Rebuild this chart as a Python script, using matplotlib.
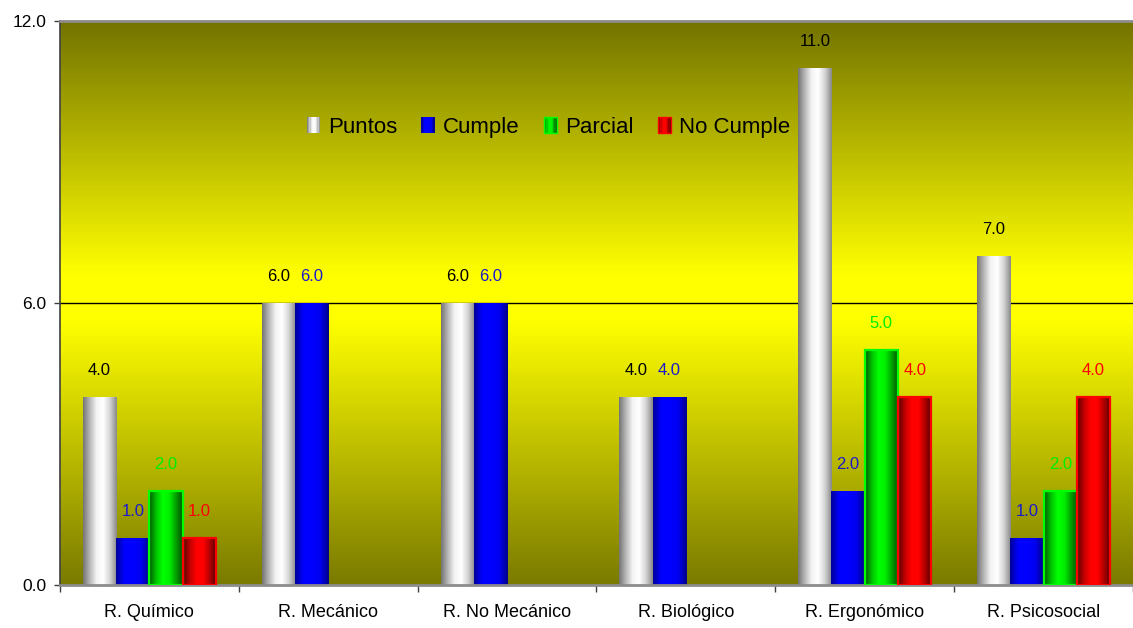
import numpy as np
import matplotlib
matplotlib.use("Agg")
import matplotlib.pyplot as plt
from matplotlib.colors import LinearSegmentedColormap
from matplotlib.legend_handler import HandlerBase
from matplotlib.patches import Rectangle, Patch

plt.rcParams["font.family"] = ["Liberation Sans", "DejaVu Sans"]

categories = ["R. Químico", "R. Mecánico", "R. No Mecánico",
              "R. Biológico", "R. Ergonómico", "R. Psicosocial"]
series_names = ["Puntos", "Cumple", "Parcial", "No Cumple"]
puntos = [4, 6, 6, 4, 11, 7]
cumple = [1, 6, 6, 4, 2, 1]
parcial = [2, 0, 0, 0, 5, 2]
no_cumple = [1, 0, 0, 0, 4, 4]
y_ticks = [0, 6, 12]

series = [puntos, cumple, parcial, no_cumple]

# horizontal shading of each series (left -> right), border colour, label colour
shades = [
    ["#767676", "#b8b8b8", "#f4f4f4", "#ffffff", "#d4d4d4", "#8a8a8a"],
    ["#00009a", "#0000ff", "#0000ff", "#0000f0", "#00008a"],
    ["#005800", "#00c000", "#00ff00", "#00f000", "#00a000", "#005000"],
    ["#5a0000", "#c00000", "#ff0000", "#ff0000", "#b00000", "#500000"],
]
edges = [None, None, "#00ff00", "#ff0000"]
label_colors = ["black", "#1a1acc", "#00ee00", "#ff0000"]
cmaps = [LinearSegmentedColormap.from_list(n, s) for n, s in zip(series_names, shades)]


class GradientHandler(HandlerBase):
    def __init__(self, cmap, edge):
        super().__init__()
        self.cmap = cmap
        self.edge = edge

    def create_artists(self, legend, orig_handle, xdescent, ydescent,
                       width, height, fontsize, trans):
        n = 10
        arts = []
        for i in range(n):
            arts.append(Rectangle((-xdescent + i * width / n, -ydescent),
                                  width / n + 0.3, height,
                                  facecolor=self.cmap((i + 0.5) / n),
                                  edgecolor="none", transform=trans))
        if self.edge:
            arts.append(Rectangle((-xdescent, -ydescent), width, height,
                                  facecolor="none", edgecolor=self.edge,
                                  lw=1, transform=trans))
        return arts


fig = plt.figure(figsize=(11.33, 6.28), dpi=100)
ax = fig.add_axes([60 / 1133, 1 - 585 / 628, 1073 / 1133, 564 / 628])

# background: olive -> yellow (around 6) -> olive
bg = LinearSegmentedColormap.from_list(
    "bg", [(0.0, "#7a7a00"), (0.47, "#ffff00"), (0.55, "#ffff00"), (1.0, "#737300")])
ax.imshow(np.linspace(0, 1, 256)[:, None], cmap=bg, origin="lower",
          extent=[0, 1, 0, 1], transform=ax.transAxes, aspect="auto",
          zorder=0, interpolation="bilinear")

x = np.arange(len(categories))
w = 0.186
grad = np.linspace(0, 1, 64)[None, :]
for k, vals in enumerate(series):
    offs = (k - 1.5) * w
    bars = ax.bar(x + offs, vals, w, facecolor="none",
                  edgecolor=edges[k] if edges[k] else "none",
                  lw=1.6, zorder=3)
    for rect, v in zip(bars, vals):
        if v == 0:
            rect.set_visible(False)
            continue
        x0 = rect.get_x()
        im = ax.imshow(grad, cmap=cmaps[k], extent=[x0, x0 + w, 0, v],
                       aspect="auto", zorder=2, interpolation="bilinear")
        im.set_clip_path(rect)
        ax.annotate(f"{v:.1f}", (x0 + w / 2, v), xytext=(0, 16),
                    textcoords="offset points", ha="center", va="baseline",
                    fontsize=12, color=label_colors[k], zorder=4)

ax.set_xlim(-0.5, len(categories) - 0.5)
ax.set_ylim(0, 12)

ax.axhline(6, color="black", lw=1, zorder=1)

ax.set_yticks(y_ticks)
ax.set_yticklabels([f"{t:.1f}" for t in y_ticks], fontsize=12.5)
ax.set_xticks(x)
ax.set_xticklabels(categories, fontsize=13)
ax.set_xticks(np.arange(len(categories) + 1) - 0.5, minor=True)
ax.tick_params(axis="x", which="major", length=0, pad=14)
ax.tick_params(axis="x", which="minor", length=5, color="#404040", width=1)
ax.tick_params(axis="y", length=4, color="#404040", width=1, pad=6)

for s in ["top", "bottom"]:
    ax.spines[s].set_color("#8c8c8c")
    ax.spines[s].set_linewidth(2)
ax.spines["left"].set_color("#404040")
ax.spines["left"].set_linewidth(1.2)
ax.spines["right"].set_visible(False)

handles = [Patch(label=n) for n in series_names]
hmap = {h: GradientHandler(cmaps[i], edges[i]) for i, h in enumerate(handles)}
ax.legend(handles=handles, handler_map=hmap, ncol=4, frameon=False,
          fontsize=16, loc="center", bbox_to_anchor=(0.455, 0.812),
          handlelength=0.6, handleheight=0.7, handletextpad=0.35,
          columnspacing=1.1)

fig.savefig("out.png", dpi=100)
